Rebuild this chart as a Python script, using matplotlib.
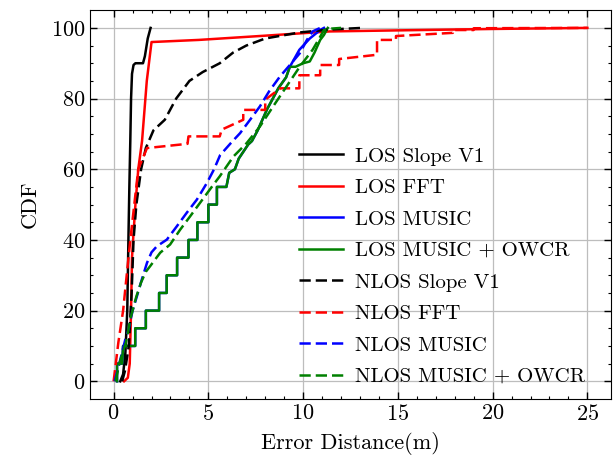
import numpy as np
import matplotlib
matplotlib.use("Agg")
import matplotlib.pyplot as plt

# LOS Slope V1 (black solid)
los_slope_x = [0.35, 0.5, 0.62, 0.72, 0.78, 0.83, 0.88, 0.92, 0.97, 1.05, 1.15, 1.55, 1.65, 1.8, 1.95]
los_slope_y = [0, 2, 8, 20, 40, 55, 68, 80, 87, 89.5, 90, 90, 92, 97, 100]

# LOS FFT (red solid)
los_fft_x = [0.55, 0.75, 0.85, 0.92, 0.97, 1.05, 1.15, 1.3, 1.5, 1.75, 2.0, 4.5, 8.0, 11.4, 15, 20, 25]
los_fft_y = [0, 1, 5, 20, 35, 42, 50, 60, 68, 85, 96, 96.6, 97.8, 99, 99.3, 99.7, 100]

# LOS MUSIC (blue solid)
los_music_x = [0.18, 0.18, 0.45, 0.5, 1.14, 1.14, 1.7, 1.7, 2.4, 2.4, 2.8, 2.8, 3.35, 3.35, 3.95, 3.95,
               4.42, 4.42, 5.0, 5.0, 5.45, 5.45, 5.95, 6.1, 6.4, 6.6, 7.1, 7.3, 7.6, 8.1, 8.4, 8.7,
               9.1, 9.3, 9.8, 10.35, 10.9, 11.1]
los_music_y = [0, 5, 5, 10, 10, 15, 15, 20, 20, 25, 25, 30, 30, 35, 35, 40,
               40, 45, 45, 50, 50, 55, 55, 59, 60, 63, 67, 68, 71, 77, 80, 83,
               86, 89, 93.8, 97, 99.4, 100]

# LOS MUSIC + OWCR (green solid)
los_owcr_x = [0.18, 0.18, 0.45, 0.5, 1.14, 1.14, 1.7, 1.7, 2.4, 2.4, 2.8, 2.8, 3.35, 3.35, 3.95, 3.95,
              4.42, 4.42, 5.0, 5.0, 5.45, 5.45, 5.95, 6.1, 6.4, 6.6, 7.1, 7.3, 7.6, 8.1, 8.4, 8.7,
              9.1, 9.3, 9.6, 10.0, 10.35, 10.6, 10.9, 11.1, 11.3]
los_owcr_y = [0, 5, 5, 10, 10, 15, 15, 20, 20, 25, 25, 30, 30, 35, 35, 40,
              40, 45, 45, 50, 50, 55, 55, 59, 60, 63, 67, 68, 71, 77, 80, 83,
              86, 89, 89, 90, 90.5, 93, 96.6, 98, 100]

# NLOS Slope V1 (black dashed)
nlos_slope_x = [0.45, 0.6, 0.8, 0.95, 1.05, 1.2, 1.45, 1.7, 2.1, 2.7, 3.3, 4.0, 4.7, 5.6, 6.3, 7.0,
                8.0, 9.8, 11.3, 13.1]
nlos_slope_y = [0, 3, 10, 25, 40, 50, 60, 66, 71, 74, 80, 85, 87.5, 90, 93, 95,
                97, 98.7, 99.5, 100]

# NLOS FFT (red dashed)
nlos_fft_x = [0, 0.25, 0.5, 0.88, 1.3, 1.76, 3.9, 3.95, 5.6, 5.7, 6.84, 6.84, 8.0, 8.0, 8.8, 9.8,
              9.8, 10.9, 10.9, 11.9, 11.9, 13.9, 13.9, 14.9, 14.9, 17.9, 17.9, 19.0, 19.0, 25]
nlos_fft_y = [0, 11, 20, 40, 60, 66, 67.2, 69.3, 69.3, 71.2, 74, 76.8, 76.8, 79.7, 82.9, 82.9,
              86.6, 86.6, 89.5, 89.5, 91.2, 92.4, 96.6, 96.6, 97.7, 98.6, 99.4, 99.4, 99.9, 100]

# NLOS MUSIC (blue dashed)
nlos_music_x = [0.05, 0.3, 0.62, 0.79, 1.0, 1.23, 1.5, 1.76, 2.0, 2.28, 2.81, 3.34, 3.86, 4.39, 4.92,
                5.3, 5.62, 6.2, 6.67, 7.2, 7.72, 8.2, 8.77, 9.3, 9.82, 10.2, 10.5, 10.9]
nlos_music_y = [0, 5, 11.9, 14.7, 20, 24.1, 29, 33.5, 36.5, 38.2, 40.1, 43.9, 47.7, 51.4, 56.1,
                60, 64, 67.5, 70.2, 74, 77.8, 82, 86.2, 89.5, 92.8, 96.6, 99, 100]

# NLOS MUSIC + OWCR (green dashed)
nlos_owcr_x = [0.1, 0.3, 0.65, 0.9, 1.2, 1.45, 1.7, 1.93, 2.46, 2.98, 3.51, 4.04, 4.56, 5.26, 5.6,
               6.32, 7.02, 7.72, 8.42, 9.12, 9.82, 10.5, 10.9, 11.1, 11.5, 12.0]
nlos_owcr_y = [0, 5, 11, 18, 24, 28, 31, 32.6, 36.4, 38.7, 42.9, 46.7, 50.5, 55.6, 58,
               63.6, 67.4, 72.1, 77.8, 83.4, 89, 93.8, 97.5, 99.4, 99.8, 100]

plt.rcParams["font.family"] = "serif"
plt.rcParams["font.serif"] = ["cmr10"]
plt.rcParams["mathtext.fontset"] = "cm"
plt.rcParams["axes.formatter.use_mathtext"] = True
plt.rcParams["font.size"] = 16

fig = plt.figure(figsize=(6.16, 4.65), dpi=100)
ax = fig.add_axes([0.146, 0.142, 0.846, 0.836])

dash = (0, (4.5, 2.0))
lw = 1.8
ax.plot(los_slope_x, los_slope_y, color="k", lw=lw, label="LOS Slope V1")
ax.plot(los_fft_x, los_fft_y, color="red", lw=lw, label="LOS FFT")
ax.plot(los_music_x, los_music_y, color="blue", lw=lw, label="LOS MUSIC")
ax.plot(los_owcr_x, los_owcr_y, color="green", lw=lw, label="LOS MUSIC + OWCR")
ax.plot(nlos_slope_x, nlos_slope_y, color="k", lw=lw, ls=dash, label="NLOS Slope V1")
ax.plot(nlos_fft_x, nlos_fft_y, color="red", lw=lw, ls=dash, label="NLOS FFT")
ax.plot(nlos_music_x, nlos_music_y, color="blue", lw=lw, ls=dash, label="NLOS MUSIC")
ax.plot(nlos_owcr_x, nlos_owcr_y, color="green", lw=lw, ls=dash, label="NLOS MUSIC + OWCR")

ax.set_xlabel("Error Distance(m)", labelpad=6)
ax.set_ylabel("CDF", labelpad=8)
ax.set_xticks([0, 5, 10, 15, 20, 25])
ax.set_yticks([0, 20, 40, 60, 80, 100])
ax.set_xticks(np.arange(0, 26, 1), minor=True)
ax.set_yticks(np.arange(0, 101, 5), minor=True)
ax.grid(True, which="major", color="#bdbdbd", lw=0.9)
ax.tick_params(which="both", direction="in", top=True, right=True)
ax.tick_params(which="major", length=5, width=1)
ax.tick_params(which="minor", length=2.5, width=0.8)

ax.legend(loc="lower right", bbox_to_anchor=(0.987, -0.015), frameon=False, fontsize=15,
          handlelength=2.1, handletextpad=0.6, labelspacing=0.62)

fig.savefig("out.png", dpi=100)
